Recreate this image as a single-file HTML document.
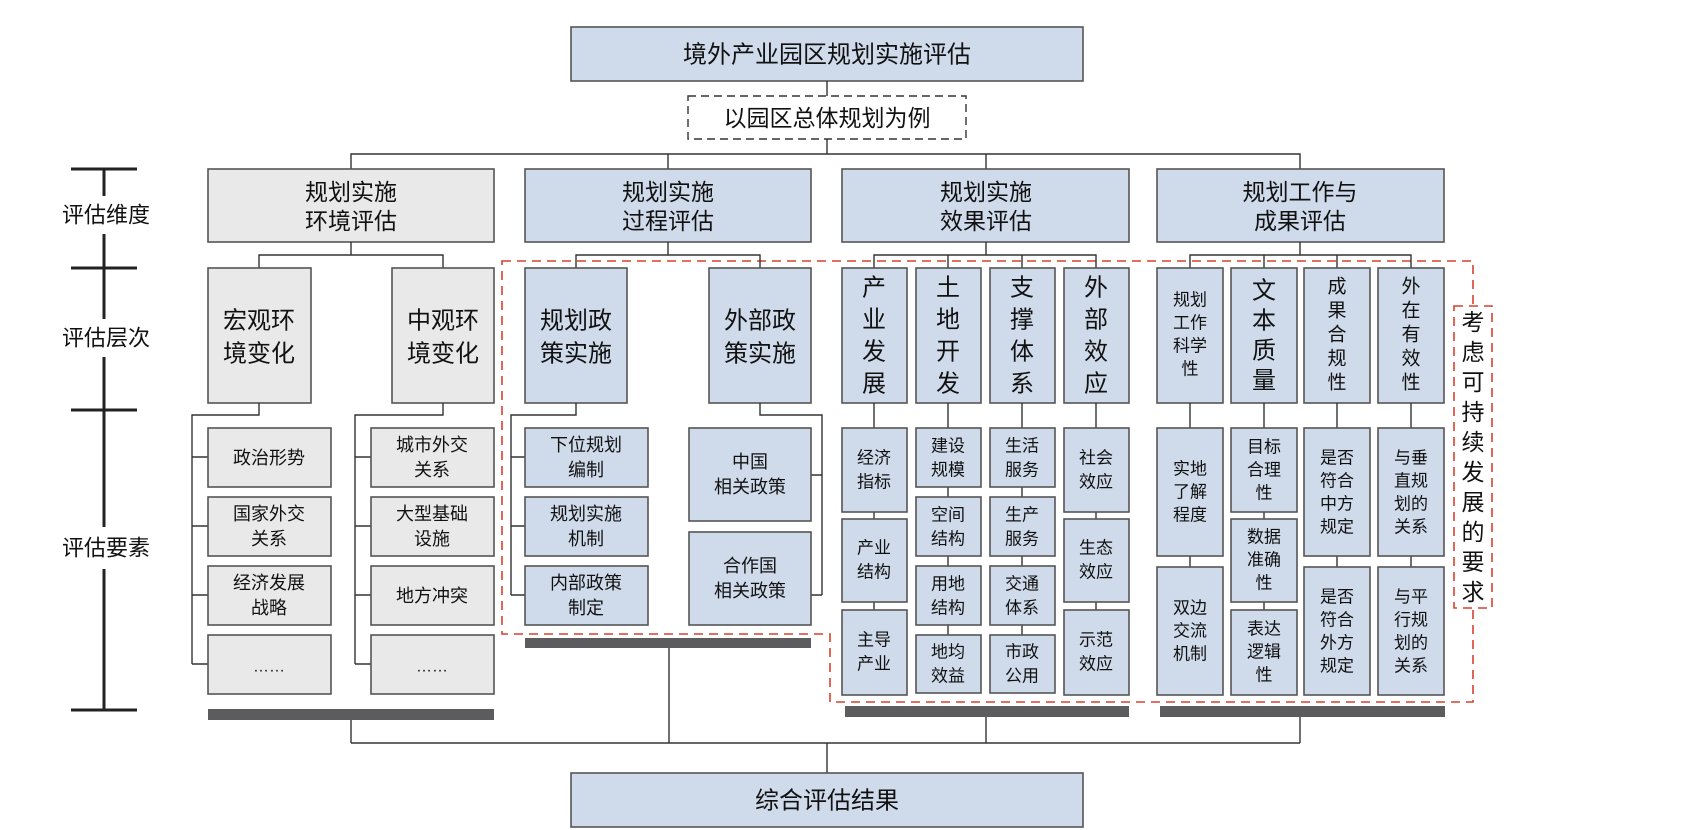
<!DOCTYPE html>
<html><head><meta charset="utf-8"><style>
html,body{margin:0;padding:0;background:#fff;}
svg{display:block;}
text{font-family:"Liberation Sans","Noto Sans CJK SC",sans-serif;fill:#111;text-anchor:middle;dominant-baseline:central;}
.b{fill:#cfdbeb;stroke:#555;stroke-width:1.6;}
.g{fill:#e9e9e9;stroke:#555;stroke-width:1.6;}
.l{stroke:#333;stroke-width:1.4;fill:none;}
.r{stroke:#d9402f;stroke-width:1.6;fill:none;stroke-dasharray:9 6;}
</style></head><body>
<svg width="1688" height="830" viewBox="0 0 1688 830" xmlns="http://www.w3.org/2000/svg">
<!-- red dashed region -->
<path class="r" d="M502,261 H1473 V702 H830 V634 H502 Z"/>
<!-- top -->
<rect class="b" x="571" y="27" width="512" height="54"/>
<text x="827" y="55" font-size="24">境外产业园区规划实施评估</text>
<line class="l" x1="827" y1="81" x2="827" y2="96"/>
<rect x="688" y="96" width="278" height="43" fill="#fff" stroke="#333" stroke-width="1.4" stroke-dasharray="8 5"/>
<text x="827" y="118" font-size="23">以园区总体规划为例</text>
<line class="l" x1="827" y1="139" x2="827" y2="154"/>
<path class="l" d="M351,169 V154 H1300 V169 M668,154 V169 M986,154 V169"/>
<!-- left scale -->
<g stroke="#222" stroke-width="3">
<line x1="104" y1="169" x2="104" y2="710"/>
<line x1="71" y1="169" x2="137" y2="169"/>
<line x1="71" y1="268" x2="137" y2="268"/>
<line x1="71" y1="410" x2="137" y2="410"/>
<line x1="71" y1="710" x2="137" y2="710"/>
</g>
<rect x="50" y="196" width="110" height="38" fill="#fff"/>
<rect x="50" y="319" width="110" height="38" fill="#fff"/>
<rect x="50" y="527" width="110" height="42" fill="#fff"/>
<text x="106" y="215" font-size="22">评估维度</text>
<text x="106" y="338" font-size="22">评估层次</text>
<text x="106" y="548" font-size="22">评估要素</text>
<!-- dims -->
<rect class="g" x="208" y="169" width="286" height="73"/>
<text x="351" y="192" font-size="23">规划实施</text><text x="351" y="221" font-size="23">环境评估</text>
<rect class="b" x="525" y="169" width="286" height="73"/>
<text x="668" y="192" font-size="23">规划实施</text><text x="668" y="221" font-size="23">过程评估</text>
<rect class="b" x="842" y="169" width="287" height="73"/>
<text x="986" y="192" font-size="23">规划实施</text><text x="986" y="221" font-size="23">效果评估</text>
<rect class="b" x="1157" y="169" width="287" height="73"/>
<text x="1300" y="192" font-size="23">规划工作与</text><text x="1300" y="221" font-size="23">成果评估</text>
<!-- level connectors -->
<path class="l" d="M351,242 V255 M259,268 V255 H443 V268"/>
<path class="l" d="M668,242 V255 M576,268 V255 H760 V268"/>
<path class="l" d="M986,242 V255 M874,268 V255 H1096 V268 M948,255 V268 M1022,255 V268"/>
<path class="l" d="M1300,242 V255 M1190,268 V255 H1411 V268 M1264,255 V268 M1337,255 V268"/>
<!-- levels -->
<rect class="g" x="208" y="268" width="103" height="135"/>
<text x="259" y="321" font-size="24">宏观环</text><text x="259" y="354" font-size="24">境变化</text>
<rect class="g" x="392" y="268" width="102" height="135"/>
<text x="443" y="321" font-size="24">中观环</text><text x="443" y="354" font-size="24">境变化</text>
<rect class="b" x="525" y="268" width="102" height="135"/>
<text x="576" y="321" font-size="24">规划政</text><text x="576" y="354" font-size="24">策实施</text>
<rect class="b" x="709" y="268" width="102" height="135"/>
<text x="760" y="321" font-size="24">外部政</text><text x="760" y="354" font-size="24">策实施</text>
<g font-size="24">
<rect class="b" x="842" y="268" width="65" height="135"/>
<text x="874" y="288" font-size="24">产</text><text x="874" y="320" font-size="24">业</text><text x="874" y="352" font-size="24">发</text><text x="874" y="384" font-size="24">展</text>
<rect class="b" x="916" y="268" width="65" height="135"/>
<text x="948" y="288" font-size="24">土</text><text x="948" y="320" font-size="24">地</text><text x="948" y="352" font-size="24">开</text><text x="948" y="384" font-size="24">发</text>
<rect class="b" x="990" y="268" width="65" height="135"/>
<text x="1022" y="288" font-size="24">支</text><text x="1022" y="320" font-size="24">撑</text><text x="1022" y="352" font-size="24">体</text><text x="1022" y="384" font-size="24">系</text>
<rect class="b" x="1064" y="268" width="65" height="135"/>
<text x="1096" y="288" font-size="24">外</text><text x="1096" y="320" font-size="24">部</text><text x="1096" y="352" font-size="24">效</text><text x="1096" y="384" font-size="24">应</text>
</g>
<rect class="b" x="1157" y="268" width="66" height="135"/>
<text x="1190" y="300" font-size="17">规划</text><text x="1190" y="323" font-size="17">工作</text><text x="1190" y="346" font-size="17">科学</text><text x="1190" y="369" font-size="17">性</text>
<rect class="b" x="1231" y="268" width="66" height="135"/>
<text x="1264" y="291" font-size="24">文</text><text x="1264" y="321" font-size="24">本</text><text x="1264" y="351" font-size="24">质</text><text x="1264" y="381" font-size="24">量</text>
<rect class="b" x="1304" y="268" width="66" height="135"/>
<text x="1337" y="287" font-size="19">成</text><text x="1337" y="311" font-size="19">果</text><text x="1337" y="335" font-size="19">合</text><text x="1337" y="359" font-size="19">规</text><text x="1337" y="383" font-size="19">性</text>
<rect class="b" x="1378" y="268" width="66" height="135"/>
<text x="1411" y="287" font-size="19">外</text><text x="1411" y="311" font-size="19">在</text><text x="1411" y="335" font-size="19">有</text><text x="1411" y="359" font-size="19">效</text><text x="1411" y="383" font-size="19">性</text>
<!-- side box -->
<rect x="1454" y="306" width="38" height="302" fill="#fff" stroke="#d9402f" stroke-width="1.6" stroke-dasharray="9 6"/>
<g font-size="23">
<text x="1473" y="322" font-size="23">考</text><text x="1473" y="352" font-size="23">虑</text><text x="1473" y="382" font-size="23">可</text><text x="1473" y="412" font-size="23">持</text><text x="1473" y="442" font-size="23">续</text><text x="1473" y="472" font-size="23">发</text><text x="1473" y="502" font-size="23">展</text><text x="1473" y="532" font-size="23">的</text><text x="1473" y="562" font-size="23">要</text><text x="1473" y="592" font-size="23">求</text>
</g>
<!-- element connectors -->
<path class="l" d="M259,403 V415 H192 V664 M192,457 H208 M192,526 H208 M192,595 H208 M192,664 H208"/>
<path class="l" d="M443,403 V415 H355 V664 M355,457 H371 M355,526 H371 M355,595 H371 M355,664 H371"/>
<path class="l" d="M576,403 V415 H511 V595 M511,457 H525 M511,526 H525 M511,595 H525"/>
<path class="l" d="M760,403 V415 H822 V595 M811,475 H822 M811,595 H822"/>
<path class="l" d="M874,403 V695 M948,403 V693 M1022,403 V693 M1096,403 V695"/>
<path class="l" d="M1190,403 V695 M1264,403 V695 M1337,403 V695 M1411,403 V695"/>
<!-- col1 elements -->
<g font-size="18">
<rect class="g" x="208" y="428" width="123" height="59"/><text x="269" y="458" font-size="18">政治形势</text>
<rect class="g" x="208" y="497" width="123" height="59"/><text x="269" y="514" font-size="18">国家外交</text><text x="269" y="539" font-size="18">关系</text>
<rect class="g" x="208" y="566" width="123" height="59"/><text x="269" y="583" font-size="18">经济发展</text><text x="269" y="608" font-size="18">战略</text>
<rect class="g" x="208" y="635" width="123" height="59"/><text x="269" y="667" font-size="16">……</text>
<rect class="g" x="371" y="428" width="123" height="59"/><text x="432" y="445" font-size="18">城市外交</text><text x="432" y="470" font-size="18">关系</text>
<rect class="g" x="371" y="497" width="123" height="59"/><text x="432" y="514" font-size="18">大型基础</text><text x="432" y="539" font-size="18">设施</text>
<rect class="g" x="371" y="566" width="123" height="59"/><text x="432" y="596" font-size="18">地方冲突</text>
<rect class="g" x="371" y="635" width="123" height="59"/><text x="432" y="667" font-size="16">……</text>
<!-- col2 -->
<rect class="b" x="525" y="428" width="123" height="59"/><text x="586" y="445" font-size="18">下位规划</text><text x="586" y="470" font-size="18">编制</text>
<rect class="b" x="525" y="497" width="123" height="59"/><text x="586" y="514" font-size="18">规划实施</text><text x="586" y="539" font-size="18">机制</text>
<rect class="b" x="525" y="566" width="123" height="59"/><text x="586" y="583" font-size="18">内部政策</text><text x="586" y="608" font-size="18">制定</text>
<rect class="b" x="689" y="428" width="122" height="93"/><text x="750" y="462" font-size="18">中国</text><text x="750" y="487" font-size="18">相关政策</text>
<rect class="b" x="689" y="532" width="122" height="93"/><text x="750" y="566" font-size="18">合作国</text><text x="750" y="591" font-size="18">相关政策</text>
</g>
<!-- col3 -->
<rect class="b" x="842" y="428" width="65" height="84"/><text x="874" y="458" font-size="17">经济</text><text x="874" y="482" font-size="17">指标</text>
<rect class="b" x="842" y="519" width="65" height="83"/><text x="874" y="548" font-size="17">产业</text><text x="874" y="572" font-size="17">结构</text>
<rect class="b" x="842" y="610" width="65" height="85"/><text x="874" y="640" font-size="17">主导</text><text x="874" y="664" font-size="17">产业</text>
<rect class="b" x="916" y="428" width="65" height="59"/><text x="948" y="446" font-size="17">建设</text><text x="948" y="470" font-size="17">规模</text>
<rect class="b" x="916" y="497" width="65" height="59"/><text x="948" y="515" font-size="17">空间</text><text x="948" y="539" font-size="17">结构</text>
<rect class="b" x="916" y="566" width="65" height="59"/><text x="948" y="584" font-size="17">用地</text><text x="948" y="608" font-size="17">结构</text>
<rect class="b" x="916" y="635" width="65" height="58"/><text x="948" y="652" font-size="17">地均</text><text x="948" y="676" font-size="17">效益</text>
<rect class="b" x="990" y="428" width="65" height="59"/><text x="1022" y="446" font-size="17">生活</text><text x="1022" y="470" font-size="17">服务</text>
<rect class="b" x="990" y="497" width="65" height="59"/><text x="1022" y="515" font-size="17">生产</text><text x="1022" y="539" font-size="17">服务</text>
<rect class="b" x="990" y="566" width="65" height="59"/><text x="1022" y="584" font-size="17">交通</text><text x="1022" y="608" font-size="17">体系</text>
<rect class="b" x="990" y="635" width="65" height="58"/><text x="1022" y="652" font-size="17">市政</text><text x="1022" y="676" font-size="17">公用</text>
<rect class="b" x="1064" y="428" width="65" height="84"/><text x="1096" y="458" font-size="17">社会</text><text x="1096" y="482" font-size="17">效应</text>
<rect class="b" x="1064" y="519" width="65" height="83"/><text x="1096" y="548" font-size="17">生态</text><text x="1096" y="572" font-size="17">效应</text>
<rect class="b" x="1064" y="610" width="65" height="85"/><text x="1096" y="640" font-size="17">示范</text><text x="1096" y="664" font-size="17">效应</text>
<!-- col4 -->
<rect class="b" x="1157" y="428" width="66" height="128"/><text x="1190" y="469" font-size="17">实地</text><text x="1190" y="492" font-size="17">了解</text><text x="1190" y="515" font-size="17">程度</text>
<rect class="b" x="1157" y="567" width="66" height="128"/><text x="1190" y="608" font-size="17">双边</text><text x="1190" y="631" font-size="17">交流</text><text x="1190" y="654" font-size="17">机制</text>
<rect class="b" x="1231" y="428" width="66" height="84"/><text x="1264" y="447" font-size="17">目标</text><text x="1264" y="470" font-size="17">合理</text><text x="1264" y="493" font-size="17">性</text>
<rect class="b" x="1231" y="519" width="66" height="83"/><text x="1264" y="537" font-size="17">数据</text><text x="1264" y="560" font-size="17">准确</text><text x="1264" y="583" font-size="17">性</text>
<rect class="b" x="1231" y="610" width="66" height="85"/><text x="1264" y="629" font-size="17">表达</text><text x="1264" y="652" font-size="17">逻辑</text><text x="1264" y="675" font-size="17">性</text>
<rect class="b" x="1304" y="428" width="66" height="128"/><text x="1337" y="458" font-size="17">是否</text><text x="1337" y="481" font-size="17">符合</text><text x="1337" y="504" font-size="17">中方</text><text x="1337" y="527" font-size="17">规定</text>
<rect class="b" x="1304" y="567" width="66" height="128"/><text x="1337" y="597" font-size="17">是否</text><text x="1337" y="620" font-size="17">符合</text><text x="1337" y="643" font-size="17">外方</text><text x="1337" y="666" font-size="17">规定</text>
<rect class="b" x="1378" y="428" width="66" height="128"/><text x="1411" y="458" font-size="17">与垂</text><text x="1411" y="481" font-size="17">直规</text><text x="1411" y="504" font-size="17">划的</text><text x="1411" y="527" font-size="17">关系</text>
<rect class="b" x="1378" y="567" width="66" height="128"/><text x="1411" y="597" font-size="17">与平</text><text x="1411" y="620" font-size="17">行规</text><text x="1411" y="643" font-size="17">划的</text><text x="1411" y="666" font-size="17">关系</text>
<!-- bars -->
<g fill="#5c5c5e">
<rect x="208" y="709" width="286" height="11"/>
<rect x="525" y="638" width="286" height="10"/>
<rect x="845" y="706" width="284" height="11"/>
<rect x="1160" y="706" width="285" height="11"/>
</g>
<path class="l" d="M351,720 V743 M669,648 V743 M986,717 V743 M1300,717 V743 M351,743 H1300 M827,743 V773"/>
<rect class="b" x="571" y="773" width="512" height="54"/>
<text x="827" y="801" font-size="24">综合评估结果</text>
</svg>
</body></html>
